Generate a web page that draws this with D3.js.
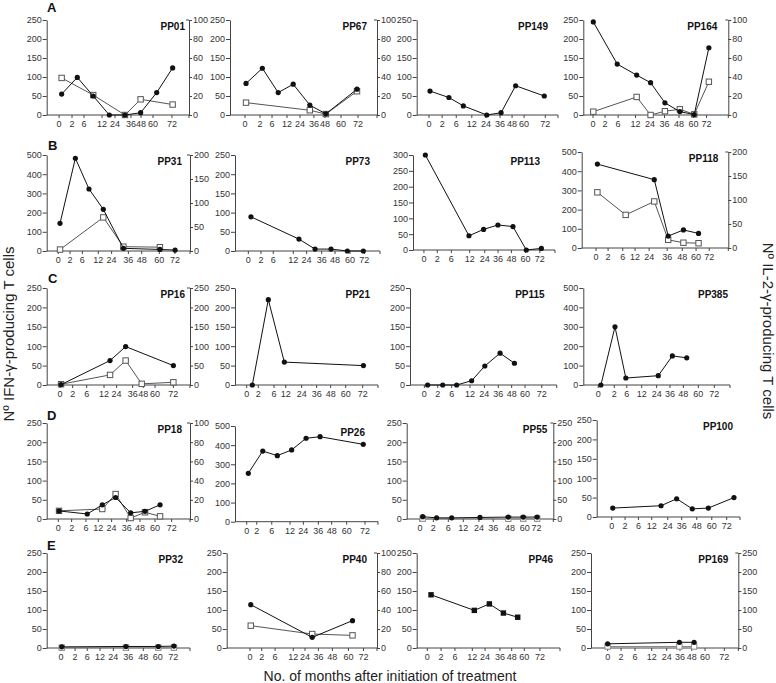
<!DOCTYPE html>
<html><head><meta charset="utf-8">
<script src="https://cdn.jsdelivr.net/npm/d3@7"></script>
<style>body{margin:0;background:#fff}svg{display:block}</style>
</head><body>
<svg id="chart" width="776" height="683"></svg>
<script>
// ---------- DATA ----------
const monthLabels = ["0","2","6","12","24","36","48","60","72"];
const rowLetters = ["A","B","C","D","E"];

// t = position along the sampling-time axis (slot units), values = cell counts
const PP01_ifn_t = [1.05,2.15,3.27,4.4,5.5,6.6,7.73,8.85], PP01_ifn = [55,99,50,0,0,6,59,124];
const PP01_il2_t = [1.05,3.27,5.5,6.6,8.85],               PP01_il2 = [39,21,0,16.5,11];
const PP67_ifn_t = [1.09,2.2,3.28,4.3,5.43,6.52,8.64],     PP67_ifn = [83,123,59,81,26,3,68];
const PP67_il2_t = [1.09,5.43,6.52,8.64],                  PP67_il2 = [13,5,1,25];
const PP149_ifn_t = [0.94,2.28,3.3,4.96,5.97,7.0,9.03],    PP149_ifn = [63,46,24,0,6,77,50];
const PP164_ifn_t = [0.69,2.34,3.68,4.64,5.63,6.66,7.65,8.66], PP164_ifn = [245,134,105,85,32,9,1,177];
const PP164_il2_t = [0.69,3.68,4.64,5.63,6.66,7.65,8.66],  PP164_il2 = [3.5,19,0,4,6,0.7,35];

const PP31_ifn_t = [0.93,2.0,2.95,3.95,5.35,7.9,8.96],     PP31_ifn = [144,483,323,217,14,8,5];
const PP31_il2_t = [0.93,3.95,5.35,7.9],                   PP31_il2 = [3,70,9,8];
const PP73_ifn_t = [1.1,4.41,5.52,6.62,7.75,8.85],         PP73_ifn = [89,31,5,5,0,0];
const PP113_ifn_t = [0.87,3.94,4.97,5.98,7.04,7.98,9.04],  PP113_ifn = [300,45,65,79,74,0,5];
const PP118_ifn_t = [1.07,4.95,5.9,6.94,7.97],             PP118_ifn = [437,356,62,94,76];
const PP118_il2_t = [1.07,3.0,4.95,5.9,6.94,7.97],         PP118_il2 = [116,69,97,17,11,10];

const PP16_ifn_t = [1.0,4.42,5.51,8.84],                   PP16_ifn = [1,63,99,50];
const PP16_il2_t = [1.0,4.42,5.51,6.63,8.84],              PP16_il2 = [2,26,63,3,7];
const PP21_ifn_t = [1.21,2.33,3.45,8.98],                  PP21_ifn = [0,220,59,50];
const PP115_ifn_t = [1.2,2.23,3.18,4.2,5.1,6.14,7.12],     PP115_ifn = [0,0,0,11,49,82,56];
const PP385_ifn_t = [1.2,2.16,2.9,5.11,6.07,7.05],         PP385_ifn = [0,300,36,48,150,140];

const PP18_ifn_t = [0.86,2.83,3.88,4.81,5.86,6.86,7.91],   PP18_ifn = [21,13,37,56,16,20,37];
const PP18_il2_t = [0.86,3.88,4.81,5.86,6.86,7.91],        PP18_il2 = [8.5,10.4,26,1,7,2.8];
const PP26_ifn_t = [0.93,1.94,2.96,3.96,4.97,5.95,8.97],   PP26_ifn = [253,369,345,375,436,444,404];
const PP55_ifn_t = [1.09,2.04,3.07,5.0,6.93,7.95,8.9],     PP55_ifn = [6,3,3,4,5,5,5];
const PP55_il2_t = [1.09,6.93,7.95,8.9],                   PP55_il2 = [1,0.5,1,1];
const PP100_ifn_t = [1.12,4.49,5.58,6.67,7.79,9.58],       PP100_ifn = [23,29,47,21,23,50];

const PP32_ifn_t = [1.05,5.53,7.79,8.88],                  PP32_ifn = [3,4,4,5];
const PP32_il2_t = [1.05,5.53,7.79,8.88],                  PP32_il2 = [1,1,1,1];
const PP40_ifn_t = [1.6,5.69,8.37],                        PP40_ifn = [114,28,72];
const PP40_il2_t = [1.6,5.69,8.37],                        PP40_il2 = [23.5,14.7,13.3];
const PP46_ifn_t = [1.0,4.02,5.07,6.05,7.05],              PP46_ifn = [140,99,116,92,81];
const PP169_ifn_t = [1.13,6.0,7.0],                        PP169_ifn = [11,15,15];
const PP169_il2_t = [1.13,6.0,7.0],                        PP169_il2 = [4,4,4];

// ---------- LAYOUT ----------
const panels = [
 {id:"PP01", x0:46.7,x1:189, top:20,zero:115, yMax:250,yStep:50, rMax:100,rStep:20, tdx:4,
  ticks:[0.87,1.78,2.62,3.89,4.8,5.92,6.63,7.47,8.8], ifnT:PP01_ifn_t, ifn:PP01_ifn, il2T:PP01_il2_t, il2:PP01_il2},
 {id:"PP67", x0:230,x1:377, top:20,zero:115, yMax:250,yStep:50, rMax:100,rStep:20, tdx:10,
  ticks:[1.02,2.04,2.86,3.88,4.76,5.71,6.46,7.55,8.71], ifnT:PP67_ifn_t, ifn:PP67_ifn, il2T:PP67_il2_t, il2:PP67_il2},
 {id:"PP149", x0:416.7,x1:558, top:20,zero:115, yMax:250,yStep:50, tdx:10,
  ticks:[0.87,1.8,2.8,3.9,4.9,5.9,6.75,7.6,9.1], ifnT:PP149_ifn_t, ifn:PP149_ifn},
 {id:"PP164", x0:583.3,x1:728.3, top:20,zero:115, yMax:250,yStep:50, rMax:100,rStep:20, tdx:11,
  ticks:[0.67,1.5,2.4,3.6,4.6,5.6,6.6,7.6,8.5], ifnT:PP164_ifn_t, ifn:PP164_ifn, il2T:PP164_il2_t, il2:PP164_il2},

 {id:"PP31", x0:46.7,x1:190, top:155,zero:251, yMax:500,yStep:100, rMax:200,rStep:50, tdx:8,
  ticks:[0.81,1.63,2.49,3.6,4.53,5.7,6.63,7.86,8.95], ifnT:PP31_ifn_t, ifn:PP31_ifn, il2T:PP31_il2_t, il2:PP31_il2},
 {id:"PP73", x0:235,x1:380, top:155,zero:251, yMax:250,yStep:50, tdx:10,
  ticks:[0.92,1.79,2.64,4.02,4.94,5.98,6.9,7.93,8.92], ifnT:PP73_ifn_t, ifn:PP73_ifn},
 {id:"PP113", x0:413,x1:555, top:155,zero:250, yMax:300,yStep:50, tdx:15,
  ticks:[0.77,1.71,2.7,3.99,5.05,5.99,6.93,7.92,8.93], ifnT:PP113_ifn_t, ifn:PP113_ifn},
 {id:"PP118", x0:581.7,x1:728.3, top:152,zero:248, yMax:500,yStep:100, rMax:200,rStep:50, tdx:10,
  ticks:[0.98,1.8,2.8,3.64,4.6,5.83,6.86,7.8,8.7], ifnT:PP118_ifn_t, ifn:PP118_ifn, il2T:PP118_il2_t, il2:PP118_il2},

 {id:"PP16", x0:46.7,x1:190, top:288,zero:385, yMax:250,yStep:50, rMax:250,rStep:50, tdx:5,
  ticks:[0.93,1.81,2.79,4.0,4.88,6.0,6.74,7.56,8.84], ifnT:PP16_ifn_t, ifn:PP16_ifn, il2T:PP16_il2_t, il2:PP16_il2},
 {id:"PP21", x0:235,x1:378, top:288,zero:385, yMax:250,yStep:50, tdx:8,
  ticks:[0.82,1.63,2.73,3.55,4.66,5.71,6.69,7.74,8.93], ifnT:PP21_ifn_t, ifn:PP21_ifn},
 {id:"PP115", x0:410,x1:556.7, top:288,zero:385, yMax:250,yStep:50, tdx:12,
  ticks:[0.98,1.89,2.84,4.09,5.07,6.02,6.93,7.84,8.98], ifnT:PP115_ifn_t, ifn:PP115_ifn},
 {id:"PP385", x0:583.3,x1:730, top:288,zero:385, yMax:500,yStep:100, tdx:2,
  ticks:[1.02,2.11,2.96,3.98,5.0,5.91,6.82,7.84,8.93], ifnT:PP385_ifn_t, ifn:PP385_ifn},

 {id:"PP18", x0:46.7,x1:190, top:423,zero:519, yMax:250,yStep:50, rMax:100,rStep:20, tdx:8,
  ticks:[0.81,1.74,2.74,3.6,4.53,5.58,6.51,7.56,8.72], ifnT:PP18_ifn_t, ifn:PP18_ifn, il2T:PP18_il2_t, il2:PP18_il2},
 {id:"PP26", x0:235,x1:378, top:426,zero:521.7, yMax:500,yStep:100, tdx:13,
  ticks:[0.82,1.52,2.57,3.85,4.78,5.83,6.76,7.81,9.09], ifnT:PP26_ifn_t, ifn:PP26_ifn},
 {id:"PP55", x0:406.7,x1:553.3, top:423,zero:519, yMax:250,yStep:50, rMax:250,rStep:50, tdx:6, lightIl2:true,
  ticks:[0.91,1.82,2.84,3.86,4.93,5.9,7.04,8.06,8.86], ifnT:PP55_ifn_t, ifn:PP55_ifn, il2T:PP55_il2_t, il2:PP55_il2},
 {id:"PP100", x0:596.7,x1:740, top:420,zero:517, yMax:250,yStep:50, tdx:7,
  ticks:[1.05,1.98,2.91,3.84,4.96,5.93,6.98,8.03,9.07], ifnT:PP100_ifn_t, ifn:PP100_ifn},

 {id:"PP32", x0:46.7,x1:190, top:553,zero:648, yMax:250,yStep:50, tdx:7, lightIl2:true,
  ticks:[1.0,1.98,2.83,3.72,4.65,5.7,6.74,7.75,8.83], ifnT:PP32_ifn_t, ifn:PP32_ifn, il2T:PP32_il2_t, il2:PP32_il2},
 {id:"PP40", x0:226.7,x1:377, top:553,zero:648, yMax:250,yStep:50, rMax:100,rStep:20, tdx:10,
  ticks:[1.55,2.33,3.22,4.43,5.21,6.1,7.03,8.1,9.1], ifnT:PP40_ifn_t, ifn:PP40_ifn, il2T:PP40_il2_t, il2:PP40_il2},
 {id:"PP46", x0:416.7,x1:560, top:553,zero:648, yMax:250,yStep:50, tdx:7, squareIfn:true,
  ticks:[0.74,1.7,2.67,3.88,4.77,5.81,6.63,7.51,8.6], ifnT:PP46_ifn_t, ifn:PP46_ifn},
 {id:"PP169", x0:591,x1:738.3, top:553,zero:648, yMax:250,yStep:50, rMax:250,rStep:50, tdx:10, lightIl2:true,
  ticks:[1.13,2.04,2.99,4.12,5.14,6.04,6.84,7.74,9.05], ifnT:PP169_ifn_t, ifn:PP169_ifn, il2T:PP169_il2_t, il2:PP169_il2},
];
const letterPos = [[47,12],[48,150],[48,283],[47,420],[47,550]];

// ---------- DRAW ----------
const svg = d3.select("#chart");
const FONT = "'Liberation Sans', Arial, Helvetica, sans-serif";
const AXIS = "#444", TXT = "#333";

panels.forEach(p => {
  const g = svg.append("g");
  const x = d3.scaleLinear().domain([0,10]).range([p.x0, p.x1]);
  const y = d3.scaleLinear().domain([0,p.yMax]).range([p.zero, p.top]);
  const yR = p.rMax ? d3.scaleLinear().domain([0,p.rMax]).range([p.zero, p.top]) : null;

  // left axis
  g.append("g").attr("transform",`translate(${p.x0},0)`)
    .call(d3.axisLeft(y).tickValues(d3.range(0,p.yMax+1,p.yStep)).tickSize(4).tickSizeOuter(0).tickPadding(1).tickFormat(d3.format("d")));
  // right axis
  if (yR) {
    const ra = g.append("g").attr("transform",`translate(${p.x1},0)`)
      .call(d3.axisRight(yR).tickValues(d3.range(0,p.rMax+1,p.rStep)).tickSize(3).tickSizeOuter(0).tickPadding(1).tickFormat(d3.format("d")));
    ra.append("line").attr("x1",-3).attr("x2",0).attr("y1",p.top).attr("y2",p.top);
  }
  // x axis
  const xa = g.append("g");
  xa.append("line").attr("x1",p.x0).attr("x2",p.x1).attr("y1",p.zero).attr("y2",p.zero);
  const tk = p.ticks.concat([10]);
  xa.selectAll("line.t").data(tk).join("line").attr("class","t")
    .attr("x1",d=>x(d)).attr("x2",d=>x(d)).attr("y1",p.zero).attr("y2",p.zero+3);
  xa.selectAll("text").data(p.ticks).join("text")
    .attr("x",d=>x(d)).attr("y",p.zero+12).attr("text-anchor","middle")
    .text((d,i)=>monthLabels[i]);

  g.selectAll("path.domain").attr("stroke",AXIS);
  g.selectAll("line").attr("stroke",AXIS).attr("stroke-width",1);
  g.selectAll("text").attr("font-family",FONT).attr("font-size",9).attr("fill",TXT);

  // panel title
  g.append("text").attr("x",p.x1 - p.tdx).attr("y",p.top+10).attr("text-anchor","end")
    .attr("font-family",FONT).attr("font-size",10).attr("font-weight","bold").attr("fill","#111").text(p.id);

  const line = d3.line().x(d=>x(d[0])).y(d=>d[1]);

  // IL-2 series (open squares)
  if (p.il2) {
    const ys = yR || y;
    const pts = p.il2T.map((t,i)=>[t, ys(p.il2[i])]);
    const col = p.lightIl2 ? "#888" : "#555";
    g.append("path").datum(pts).attr("d",line).attr("fill","none").attr("stroke",col).attr("stroke-width",1);
    g.selectAll("rect.il2").data(pts).join("rect").attr("class","il2")
      .attr("x",d=>x(d[0])-2.7).attr("y",d=>d[1]-2.7).attr("width",5.4).attr("height",5.4)
      .attr("fill","#fff").attr("stroke",col).attr("stroke-width",1);
  }
  // IFN series (filled circles / squares)
  const ptsI = p.ifnT.map((t,i)=>[t, y(p.ifn[i])]);
  g.append("path").datum(ptsI).attr("d",line).attr("fill","none").attr("stroke","#111").attr("stroke-width",1);
  if (p.squareIfn) {
    g.selectAll("rect.ifn").data(ptsI).join("rect").attr("class","ifn")
      .attr("x",d=>x(d[0])-2.7).attr("y",d=>d[1]-2.7).attr("width",5.4).attr("height",5.4).attr("fill","#111");
  } else {
    g.selectAll("circle.ifn").data(ptsI).join("circle").attr("class","ifn")
      .attr("cx",d=>x(d[0])).attr("cy",d=>d[1]).attr("r",2.6).attr("fill","#111");
  }
});

// row letters
rowLetters.forEach((L,i)=>{
  svg.append("text").attr("x",letterPos[i][0]).attr("y",letterPos[i][1])
    .attr("font-family",FONT).attr("font-size",13).attr("font-weight","bold").attr("fill","#111").text(L);
});

// axis titles
svg.append("text").attr("transform","translate(14,334) rotate(-90)").attr("text-anchor","middle")
  .attr("font-family",FONT).attr("font-size",15).attr("fill","#222").text("Nº IFN-γ-producing T cells");
svg.append("text").attr("transform","translate(763,331) rotate(90)").attr("text-anchor","middle")
  .attr("font-family",FONT).attr("font-size",15).attr("fill","#222").text("Nº IL-2-γ-producing T cells");
svg.append("text").attr("x",390).attr("y",681).attr("text-anchor","middle")
  .attr("font-family",FONT).attr("font-size",14).attr("fill","#222").text("No. of months after initiation of treatment");
</script>
</body></html>
